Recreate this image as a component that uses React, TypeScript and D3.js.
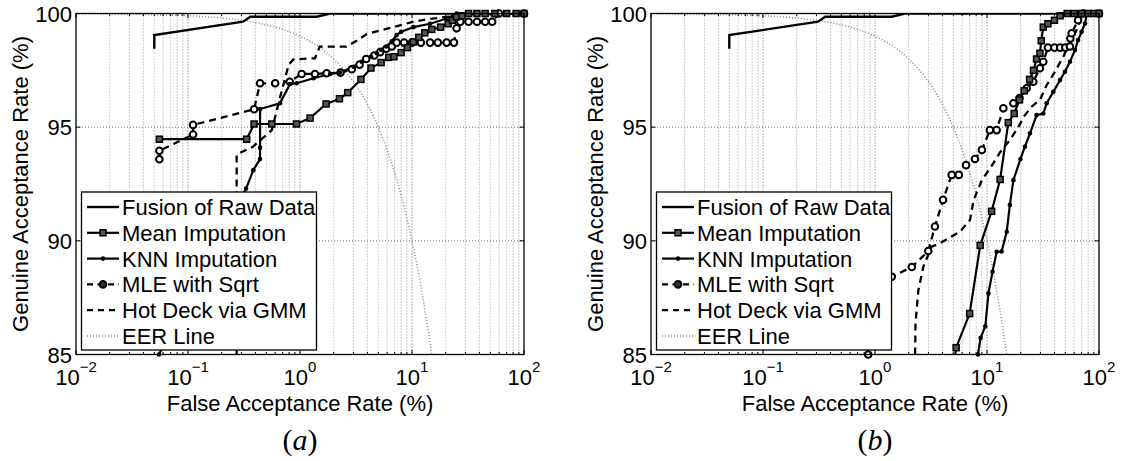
import React from "react";
import * as d3 from "d3";

// ---------- data ----------
const fusionFAR = [0.05, 0.05, 0.31, 0.36, 1.41, 1.85, 100];
const fusionGAR = [98.45, 99.05, 99.64, 99.86, 99.86, 100, 100];

const eerFAR = [0.01, 0.02, 0.05, 0.1, 0.2, 0.3, 0.5, 0.7, 1, 1.5, 2, 3, 4, 5, 6, 7, 8, 9, 10, 11, 12, 13, 14, 15, 16];
const eerGAR = [99.99, 99.98, 99.95, 99.9, 99.8, 99.7, 99.5, 99.3, 99, 98.5, 98, 97, 96, 95, 94, 93, 92, 91, 90, 89, 88, 87, 86, 85, 84];

// panel (a)
const meanAFAR = [0.0555, 0.334, 0.389, 0.56, 0.93, 1.23, 1.71, 2.25, 2.67, 3.5, 4.3, 5.3, 6.2, 6.9, 8.0, 9.1, 10.3, 11.5, 13, 15, 18, 21, 23, 25, 28, 32, 38, 45, 55, 70, 85, 100];
const meanAGAR = [94.47, 94.47, 95.14, 95.14, 95.14, 95.4, 96.02, 96.25, 96.52, 97.1, 97.6, 97.84, 98.07, 98.1, 98.28, 98.5, 98.75, 98.95, 99.15, 99.3, 99.4, 99.55, 99.7, 99.85, 99.9, 100, 100, 100, 100, 100, 100, 100];

const knnAFAR = [0.055, 0.33, 0.383, 0.44, 0.44, 0.44, 0.663, 0.814, 0.934, 1.32, 1.86, 2.28, 3.0, 3.56, 4.3, 4.85, 5.3, 5.9, 6.6, 7.3, 8.0, 10.3, 14.5, 20.4, 25, 100];
const knnAGAR = [85, 92.3, 93.11, 93.6, 94.1, 95.8, 96.05, 96.9, 96.93, 97.15, 97.34, 97.4, 97.66, 97.88, 98.1, 98.25, 98.4, 98.55, 98.78, 99.05, 99.2, 99.4, 99.55, 99.78, 100, 100];

const mleAFAR = [0.0555, 0.0555, 0.111, 0.111, 0.389, 0.44, 0.6, 0.81, 1.035, 1.36, 1.73, 2.3, 2.9, 3.4, 3.9, 4.6, 5.2, 5.9, 6.6, 7.3, 8.5, 10, 12, 14.5, 17, 20.4, 23.7, 25, 27, 32, 38, 45, 52, 60, 100];
const mleAGAR = [93.59, 93.96, 94.68, 95.1, 95.79, 96.93, 96.93, 97.0, 97.34, 97.34, 97.37, 97.4, 97.55, 97.75, 98.0, 98.15, 98.3, 98.45, 98.55, 98.72, 98.72, 98.72, 98.72, 98.72, 98.72, 98.72, 98.72, 99.35, 99.64, 99.64, 99.64, 99.64, 99.64, 100, 100];

const hotAFAR = [0.272, 0.272, 0.38, 0.56, 0.663, 0.79, 0.87, 1.36, 1.5, 2.6, 3.2, 3.94, 5.18, 6.81, 10.3, 14, 20, 28, 40, 100];
const hotAGAR = [85, 93.8, 94.14, 94.87, 96.3, 97.73, 97.98, 98.03, 98.54, 98.54, 98.8, 99.1, 99.25, 99.4, 99.64, 99.75, 99.85, 99.9, 100, 100];

// panel (b)
const meanBFAR = [5.1, 5.3, 7.0, 8.7, 11.0, 13.1, 15.5, 17.5, 19.5, 21.5, 24, 26, 27.7, 29.7, 30.5, 31.8, 35, 40, 45, 52, 60, 70, 80, 90, 100];
const meanBGAR = [84.6, 85.3, 86.8, 89.8, 91.3, 92.7, 95.2, 95.6, 96.2, 96.6, 97.1, 97.5, 98.0, 98.25, 98.8, 99.4, 99.55, 99.7, 99.9, 100, 100, 100, 100, 100, 100];

const knnBFAR = [8.2, 8.3, 8.77, 9.66, 10.3, 11.2, 12.2, 13.5, 15, 16, 17.2, 19.9, 21.8, 24.2, 27.7, 31.8, 34.1, 39.1, 44.9, 49.6, 55, 61, 65, 70, 75, 78, 100];
const knnBGAR = [84.5, 85, 85.73, 86.24, 87.69, 88.64, 89.52, 89.53, 90.4, 91.58, 92.67, 93.6, 94.14, 94.73, 95.53, 95.6, 96.05, 96.56, 97.07, 97.44, 97.88, 98.39, 98.83, 99.2, 99.56, 100, 100];

const mleBFAR = [0.87, 0.87, 1.41, 2.13, 2.99, 3.43, 4.05, 4.84, 5.6, 6.5, 7.8, 9.0, 10.6, 12.2, 14, 17.2, 19.5, 22.6, 25.9, 29.7, 31.8, 35, 40, 45, 50, 55, 55.5, 57, 65, 72, 100];
const mleBGAR = [85, 88.3, 88.42, 88.85, 89.55, 90.63, 91.8, 92.9, 92.9, 93.33, 93.6, 94.0, 94.87, 94.87, 95.83, 96.05, 96.28, 96.71, 97.0, 97.59, 97.88, 98.5, 98.5, 98.5, 98.5, 98.55, 98.9, 99.13, 99.7, 100, 100];

const hotBFAR = [2.28, 2.3, 2.44, 2.7, 3.2, 3.8, 5.74, 7.05, 7.6, 9.0, 11, 13.1, 16, 19, 21.8, 25, 29.7, 34.1, 40, 48, 53, 59, 65, 72, 100];
const hotBGAR = [85, 86.4, 87.83, 88.86, 89.74, 89.89, 90.4, 90.92, 91.8, 92.67, 93.3, 93.9, 94.43, 95.0, 95.53, 95.9, 96.2, 96.85, 97.4, 98.1, 98.55, 98.98, 99.42, 100, 100];

const xTickExps = ["\u22122", "\u22121", "0", "1", "2"];
const xTickVals = [0.01, 0.1, 1, 10, 100];
const yTickVals = [85, 90, 95, 100];
const legendLabels = ["Fusion of Raw Data", "Mean Imputation", "KNN Imputation", "MLE with Sqrt", "Hot Deck via GMM", "EER Line"];
const captions = ["a", "b"];
const xAxisTitle = "False Acceptance Rate (%)";
const yAxisTitle = "Genuine Acceptance Rate (%)";

// ---------- layout ----------
const W = 1123;
const H = 461;
const TOP = 13.5;
const BOTTOM = 354.5;
const PW = 448;
const LEFTS = [76, 651];
const FONT = "'Liberation Sans', Arial, Helvetica, sans-serif";

type Series = { far: number[]; gar: number[] };
type PanelData = { mean: Series; knn: Series; mle: Series; hot: Series };

const panels: PanelData[] = [
  { mean: { far: meanAFAR, gar: meanAGAR }, knn: { far: knnAFAR, gar: knnAGAR }, mle: { far: mleAFAR, gar: mleAGAR }, hot: { far: hotAFAR, gar: hotAGAR } },
  { mean: { far: meanBFAR, gar: meanBGAR }, knn: { far: knnBFAR, gar: knnBGAR }, mle: { far: mleBFAR, gar: mleBGAR }, hot: { far: hotBFAR, gar: hotBGAR } },
];

const toPts = (s: Series) => s.far.map((f, i) => [f, s.gar[i]] as [number, number]);

function Square({ cx, cy }: { cx: number; cy: number }) {
  return <rect x={cx - 3} y={cy - 3} width={6} height={6} fill="#555" stroke="#000" strokeWidth={1.5} />;
}
function Dot({ cx, cy }: { cx: number; cy: number }) {
  return <circle cx={cx} cy={cy} r={2.3} fill="#000" />;
}
function Ring({ cx, cy }: { cx: number; cy: number }) {
  return <circle cx={cx} cy={cy} r={3.3} fill="#fff" stroke="#000" strokeWidth={2} />;
}

function Panel({ idx }: { idx: number }) {
  const left = LEFTS[idx];
  const data = panels[idx];
  const x = d3.scaleLog().domain([0.01, 100]).range([left, left + PW]);
  const y = d3.scaleLinear().domain([85, 100]).range([BOTTOM, TOP]);
  const line = d3.line<[number, number]>().x((d) => x(d[0])).y((d) => y(d[1]));
  const eerLine = d3.line<[number, number]>().x((d) => x(d[0])).y((d) => y(d[1])).curve(d3.curveMonotoneX);
  const clipId = `clip-${idx}`;

  const minor: number[] = [];
  [0.01, 0.1, 1, 10].forEach((dec) => {
    for (let k = 2; k <= 9; k++) minor.push(dec * k);
  });

  const visible = (p: [number, number]) => p[1] >= 85 && p[1] <= 100 && p[0] >= 0.01 && p[0] <= 100;
  const ptsMean = toPts(data.mean);
  const ptsKnn = toPts(data.knn);
  const ptsMle = toPts(data.mle);
  const ptsHot = toPts(data.hot);
  const ptsFusion = fusionFAR.map((f, i) => [f, fusionGAR[i]] as [number, number]);
  const ptsEer = eerFAR.map((f, i) => [f, eerGAR[i]] as [number, number]);

  const cx = left + PW / 2;
  const lgX = left + 5.5;
  const lgY = 192;
  const lgW = 235;
  const lgH = 158;

  return (
    <g>
      <defs>
        <clipPath id={clipId}>
          <rect x={left} y={TOP} width={PW} height={BOTTOM - TOP} />
        </clipPath>
      </defs>
      <rect x={left} y={TOP} width={PW} height={BOTTOM - TOP} fill="#fff" />
      {/* grid */}
      {minor.map((v) => (
        <line key={"mg" + v} x1={x(v)} x2={x(v)} y1={TOP} y2={BOTTOM} stroke="#999" strokeWidth={1} strokeDasharray="1,2" />
      ))}
      {xTickVals.slice(1, 4).map((v) => (
        <line key={"Mg" + v} x1={x(v)} x2={x(v)} y1={TOP} y2={BOTTOM} stroke="#666" strokeWidth={1} strokeDasharray="1,2" />
      ))}
      {[90, 95].map((v) => (
        <line key={"hg" + v} x1={left} x2={left + PW} y1={y(v)} y2={y(v)} stroke="#666" strokeWidth={1} strokeDasharray="1,2" />
      ))}
      <g clipPath={`url(#${clipId})`}>
        <path d={eerLine(ptsEer) || ""} fill="none" stroke="#888" strokeWidth={1.5} strokeDasharray="1,2" />
        <path d={line(ptsHot) || ""} fill="none" stroke="#000" strokeWidth={2.3} strokeDasharray="7,5" />
        <path d={line(ptsMle) || ""} fill="none" stroke="#000" strokeWidth={2.3} strokeDasharray="7,5" />
        <path d={line(ptsKnn) || ""} fill="none" stroke="#000" strokeWidth={2.2} />
        <path d={line(ptsMean) || ""} fill="none" stroke="#000" strokeWidth={2.2} />
        <path d={line(ptsFusion) || ""} fill="none" stroke="#000" strokeWidth={2.4} />
      </g>
      {ptsMle.filter(visible).map((p, i) => <Ring key={"r" + i} cx={x(p[0])} cy={y(p[1])} />)}
      {ptsKnn.filter(visible).map((p, i) => <Dot key={"d" + i} cx={x(p[0])} cy={y(p[1])} />)}
      {ptsMean.filter(visible).map((p, i) => <Square key={"s" + i} cx={x(p[0])} cy={y(p[1])} />)}

      {/* box & ticks */}
      <rect x={left} y={TOP} width={PW} height={BOTTOM - TOP} fill="none" stroke="#000" strokeWidth={1.3} />
      {minor.map((v) => (
        <g key={"mt" + v}>
          <line x1={x(v)} x2={x(v)} y1={BOTTOM} y2={BOTTOM - 2.5} stroke="#000" strokeWidth={1} />
          <line x1={x(v)} x2={x(v)} y1={TOP} y2={TOP + 2.5} stroke="#000" strokeWidth={1} />
        </g>
      ))}
      {xTickVals.map((v) => (
        <g key={"Mt" + v}>
          <line x1={x(v)} x2={x(v)} y1={BOTTOM} y2={BOTTOM - 4.5} stroke="#000" strokeWidth={1} />
          <line x1={x(v)} x2={x(v)} y1={TOP} y2={TOP + 4.5} stroke="#000" strokeWidth={1} />
        </g>
      ))}
      {yTickVals.map((v) => (
        <g key={"yt" + v}>
          <line x1={left} x2={left + 4.5} y1={y(v)} y2={y(v)} stroke="#000" strokeWidth={1} />
          <line x1={left + PW} x2={left + PW - 4.5} y1={y(v)} y2={y(v)} stroke="#000" strokeWidth={1} />
        </g>
      ))}
      {/* tick labels */}
      {xTickVals.map((v, i) => (
        <text key={"xl" + v} x={x(v)} y={385} textAnchor="middle" fontFamily={FONT} fontSize={22} fill="#000">
          10<tspan dy={-13} fontSize={15}>{xTickExps[i]}</tspan>
        </text>
      ))}
      {yTickVals.map((v) => (
        <text key={"yl" + v} x={left - 4} y={y(v) + 8} textAnchor="end" fontFamily={FONT} fontSize={22} fill="#000">
          {v}
        </text>
      ))}
      <text x={cx} y={411} textAnchor="middle" fontFamily={FONT} fontSize={22} fill="#000">
        {xAxisTitle}
      </text>
      <text transform={`translate(${left - 48},${(TOP + BOTTOM) / 2}) rotate(-90)`} textAnchor="middle" fontFamily={FONT} fontSize={22} fill="#000">
        {yAxisTitle}
      </text>
      <text x={cx} y={450} textAnchor="middle" fontFamily="'Liberation Serif', 'Times New Roman', serif" fontSize={30} fill="#000">
        (<tspan fontStyle="italic">{captions[idx]}</tspan>)
      </text>

      {/* legend */}
      <rect x={lgX} y={lgY} width={lgW} height={lgH} fill="#fff" stroke="#000" strokeWidth={1.3} />
      {legendLabels.map((lab, i) => {
        const ry = lgY + 15 + i * 25.8;
        const x1 = lgX + 5.5;
        const x2 = lgX + 37.5;
        const mx = (x1 + x2) / 2;
        let sample: React.ReactNode = null;
        if (i === 0) sample = <line x1={x1} x2={x2} y1={ry} y2={ry} stroke="#000" strokeWidth={2.4} />;
        if (i === 1)
          sample = (
            <g>
              <line x1={x1} x2={x2} y1={ry} y2={ry} stroke="#000" strokeWidth={2.2} />
              <Square cx={mx} cy={ry} />
            </g>
          );
        if (i === 2)
          sample = (
            <g>
              <line x1={x1} x2={x2} y1={ry} y2={ry} stroke="#000" strokeWidth={2.2} />
              <Dot cx={mx} cy={ry} />
            </g>
          );
        if (i === 3)
          sample = (
            <g>
              <line x1={x1} x2={x2} y1={ry} y2={ry} stroke="#000" strokeWidth={2.3} strokeDasharray="6,4.5" />
              <circle cx={mx} cy={ry} r={3.3} fill="#333" stroke="#000" strokeWidth={2} />
            </g>
          );
        if (i === 4) sample = <line x1={x1} x2={x2} y1={ry} y2={ry} stroke="#000" strokeWidth={2.3} strokeDasharray="6,5" />;
        if (i === 5) sample = <line x1={x1} x2={x2} y1={ry} y2={ry} stroke="#888" strokeWidth={1.5} strokeDasharray="1,2" />;
        return (
          <g key={"lg" + i}>
            {sample}
            <text x={lgX + 40.5} y={ry + 8} fontFamily={FONT} fontSize={22} fill="#000">
              {lab}
            </text>
          </g>
        );
      })}
    </g>
  );
}

export default function App() {
  return (
    <svg width={W} height={H} style={{ position: "absolute", left: 0, top: 0, background: "#fff" }}>
      <rect x={0} y={0} width={W} height={H} fill="#fff" />
      <Panel idx={0} />
      <Panel idx={1} />
    </svg>
  );
}
